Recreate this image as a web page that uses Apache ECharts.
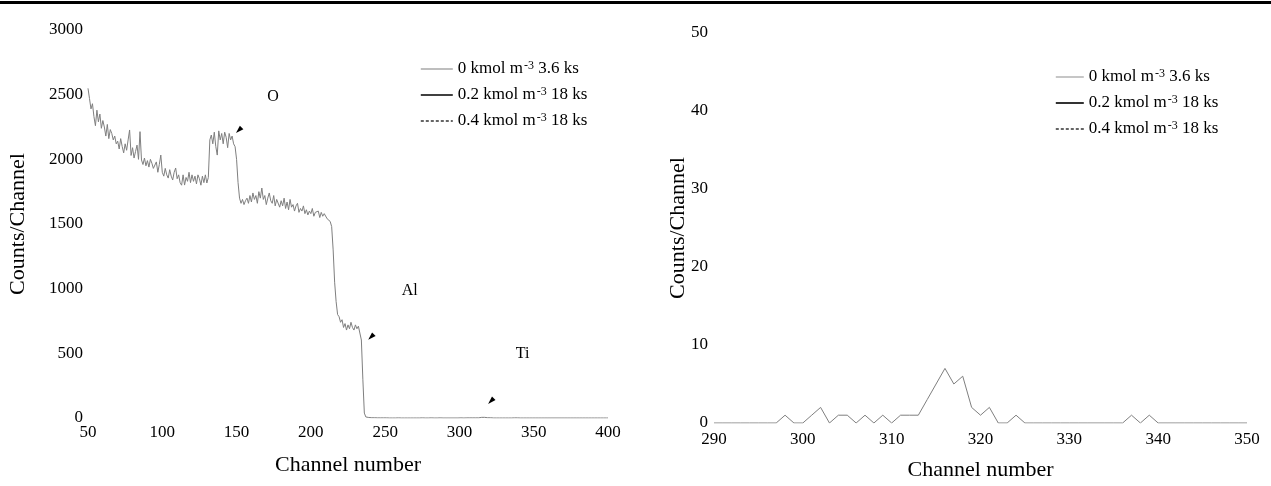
<!DOCTYPE html>
<html><head><meta charset="utf-8">
<script src="https://cdn.jsdelivr.net/npm/echarts@6/dist/echarts.min.js"></script>
<style>html,body{margin:0;padding:0;background:#fff}#c{width:1271px;height:486px}</style>
</head><body><div id="c"></div>
<script>
// ---- data ----
const seriesNames = ['0 kmol m^-3 3.6 ks', '0.2 kmol m^-3 18 ks', '0.4 kmol m^-3 18 ks'];
const leftChannelStart = 50;
const leftCounts = [
  2549,2470,2390,2430,2330,2260,2380,2290,2350,2240,
  2300,2250,2180,2270,2160,2230,2200,2150,2180,2120,
  2140,2080,2160,2100,2050,2120,2070,2150,2227,2030,
  2090,2010,2060,2110,2000,2214,1995,1960,2010,1950,
  1990,1940,2000,1970,1930,1920,1980,1900,1960,2033,
  1900,1870,1930,1880,1855,1920,1870,1840,1900,1933,
  1850,1880,1820,1800,1880,1801,1860,1830,1900,1820,
  1880,1830,1870,1810,1880,1850,1800,1870,1820,1880,
  1817,1860,2150,2188,2120,2210,2100,2033,2220,2150,
  2200,2120,2210,2170,2090,2200,2150,2180,2120,2098,
  2000,1820,1700,1660,1690,1650,1680,1700,1660,1720,
  1670,1740,1690,1720,1660,1750,1700,1778,1690,1720,
  1650,1700,1740,1680,1660,1720,1640,1690,1700,1630,
  1680,1640,1700,1620,1670,1610,1690,1630,1650,1600,
  1640,1660,1590,1620,1600,1640,1580,1610,1570,1600,
  1580,1620,1560,1590,1575,1600,1550,1590,1560,1580,
  1565,1540,1530,1520,1480,1300,1050,900,800,783,
  740,760,700,730,680,720,690,740,700,680,
  720,690,710,696,603,300,38,8,5,4,
  3,2,1,2,0,1,2,1,0,1,
  0,1,0,0,1,0,1,0,0,1,
  0,0,1,0,0,0,1,0,0,0,
  1,0,0,0,0,1,0,0,0,0,
  0,1,0,0,0,0,0,1,0,0,
  0,0,0,0,0,0,0,0,1,0,
  0,1,2,0,1,1,0,1,0,1,
  0,1,1,1,3,5,7,5,6,2,
  1,2,0,0,1,0,0,0,0,0,
  0,0,0,0,0,0,0,1,0,1,
  0,0,0,0,0,0,0,0,0,0,
  0,0,0,0,0,0,0,0,0,0,
  0,0,0,0,0,0,0,0,0,0,
  0,0,0,0,0,0,0,0,0,0,
  0,0,0,0,0,0,0,0,0,0,
  0,0,0,0,0,0,0,0,0,0,
  0
];
const rightChannelStart = 290;
const rightCounts = [
  0,0,0,0,0,0,0,0,1,0,
  0,1,2,0,1,1,0,1,0,1,
  0,1,1,1,3,5,7,5,6,2,
  1,2,0,0,1,0,0,0,0,0,
  0,0,0,0,0,0,0,1,0,1,
  0,0,0,0,0,0,0,0,0,0,
  0
];
const leftXTicks = {min: 50, max: 400, interval: 50};
const leftYTicks = {min: 0, max: 3000, interval: 500};
const rightXTicks = {min: 290, max: 350, interval: 10};
const rightYTicks = {min: 0, max: 50, interval: 10};
const peakLabels = [
  {name: 'O', ch: 174.5, val: 2485},
  {name: 'Al', ch: 266.5, val: 985},
  {name: 'Ti', ch: 342.5, val: 500}
];
const peakArrows = [
  {ch: 151.5, val: 2225},
  {ch: 240.5, val: 626},
  {ch: 321.2, val: 131}
];

// ---- chart ----
const FONT = "'Liberation Serif','Times New Roman',serif";
const toPairs = (start, arr) => arr.map((v, i) => [start + i, v]);
const legendFormatter = n => {
  const p = n.split('^-3');
  return '{a|' + p[0] + '}{s|-3}{a|' + p[1] + '}';
};
const legendRich = {
  a: {fontFamily: FONT, fontSize: 17, color: '#000', lineHeight: 18},
  s: {fontFamily: FONT, fontSize: 12, color: '#000', verticalAlign: 'top', lineHeight: 10, padding: [0, 0, 0, 1]}
};
const lineTypes = ['solid', 'solid', [3, 2]];
const legendColors = ['#a8a8a8', '#000', '#333'];
const legendWidths = [1.3, 1.6, 1.3];
const lineColors = ['#7f7f7f', '#111', '#444'];
const axisFont = {fontFamily: FONT, fontSize: 17, color: '#000', formatter: v => String(v)};

function makeSeries(xi, start, data) {
  return seriesNames.map((n, k) => ({
    name: n, type: 'line', xAxisIndex: xi, yAxisIndex: xi,
    data: k === 0 ? toPairs(start, data) : [],
    symbol: 'none', showSymbol: false, animation: false,
    lineStyle: {color: lineColors[k], width: 1, type: lineTypes[k]},
    itemStyle: {color: lineColors[k]},
    z: 3 - k
  }));
}

const series = [
  ...makeSeries(0, leftChannelStart, leftCounts),
  ...makeSeries(1, rightChannelStart, rightCounts),
  {
    name: 'annot', type: 'line', xAxisIndex: 0, yAxisIndex: 0, data: [], symbol: 'none', animation: false,
    markPoint: {
      animation: false,
      data: peakArrows.map(a => ({coord: [a.ch, a.val], symbol: 'triangle', symbolSize: [5, 8], symbolRotate: 135, itemStyle: {color: '#000'}, label: {show: false}}))
        .concat(peakLabels.map(l => ({name: l.name, coord: [l.ch, l.val], symbol: 'circle', symbolSize: 1, itemStyle: {color: 'rgba(0,0,0,0)'},
          label: {show: true, position: 'inside', formatter: '{b}', fontFamily: FONT, fontSize: 16, color: '#000'}})))
    }
  }
];

const legendData = seriesNames.map((n, k) => ({name: n, itemStyle: {color: legendColors[k], opacity: 0, borderWidth: 0},
  lineStyle: {color: legendColors[k], width: legendWidths[k], type: lineTypes[k], opacity: 1}}));

const nameStyle = {fontFamily: FONT, fontSize: 22, color: '#000'};
const option = {
  backgroundColor: '#fff',
  animation: false,
  graphic: [{type: 'rect', left: 0, top: 1, shape: {width: 1271, height: 3}, style: {fill: '#000'}}],
  grid: [
    {left: 88, right: 663, top: 30, bottom: 68},
    {left: 714, right: 24, top: 33, bottom: 62}
  ],
  xAxis: [
    {type: 'value', gridIndex: 0, ...leftXTicks, axisLine: {show: false}, axisTick: {show: false}, splitLine: {show: false},
     axisLabel: {...axisFont, margin: 6}, name: 'Channel number', nameLocation: 'middle', nameGap: 36, nameMoveOverlap: false,
     nameTextStyle: nameStyle},
    {type: 'value', gridIndex: 1, ...rightXTicks, axisLine: {show: false}, axisTick: {show: false}, splitLine: {show: false},
     axisLabel: {...axisFont, margin: 8}, name: 'Channel number', nameLocation: 'middle', nameGap: 36, nameMoveOverlap: false,
     nameTextStyle: nameStyle}
  ],
  yAxis: [
    {type: 'value', gridIndex: 0, ...leftYTicks, axisLine: {show: false}, axisTick: {show: false}, splitLine: {show: false},
     axisLabel: {...axisFont, margin: 5}, name: 'Counts/Channel', nameLocation: 'middle', nameGap: 59, nameMoveOverlap: false,
     nameTextStyle: nameStyle},
    {type: 'value', gridIndex: 1, ...rightYTicks, axisLine: {show: false}, axisTick: {show: false}, splitLine: {show: false},
     axisLabel: {...axisFont, margin: 6}, name: 'Counts/Channel', nameLocation: 'middle', nameGap: 25, nameMoveOverlap: false,
     nameTextStyle: nameStyle}
  ],
  legend: [
    {show: true, data: legendData, orient: 'vertical', left: 420, top: 60, padding: 0, itemWidth: 32, itemHeight: 14, itemGap: 8.5,
     formatter: legendFormatter, textStyle: {rich: legendRich}, selectedMode: false},
    {show: true, data: legendData, orient: 'vertical', left: 1055, top: 68, padding: 0, itemWidth: 28, itemHeight: 14, itemGap: 8.5,
     formatter: legendFormatter, textStyle: {rich: legendRich}, selectedMode: false}
  ],
  series: series
};
const chart = echarts.init(document.getElementById('c'), null, {renderer: 'canvas'});
chart.setOption(option);
</script>
</body></html>
